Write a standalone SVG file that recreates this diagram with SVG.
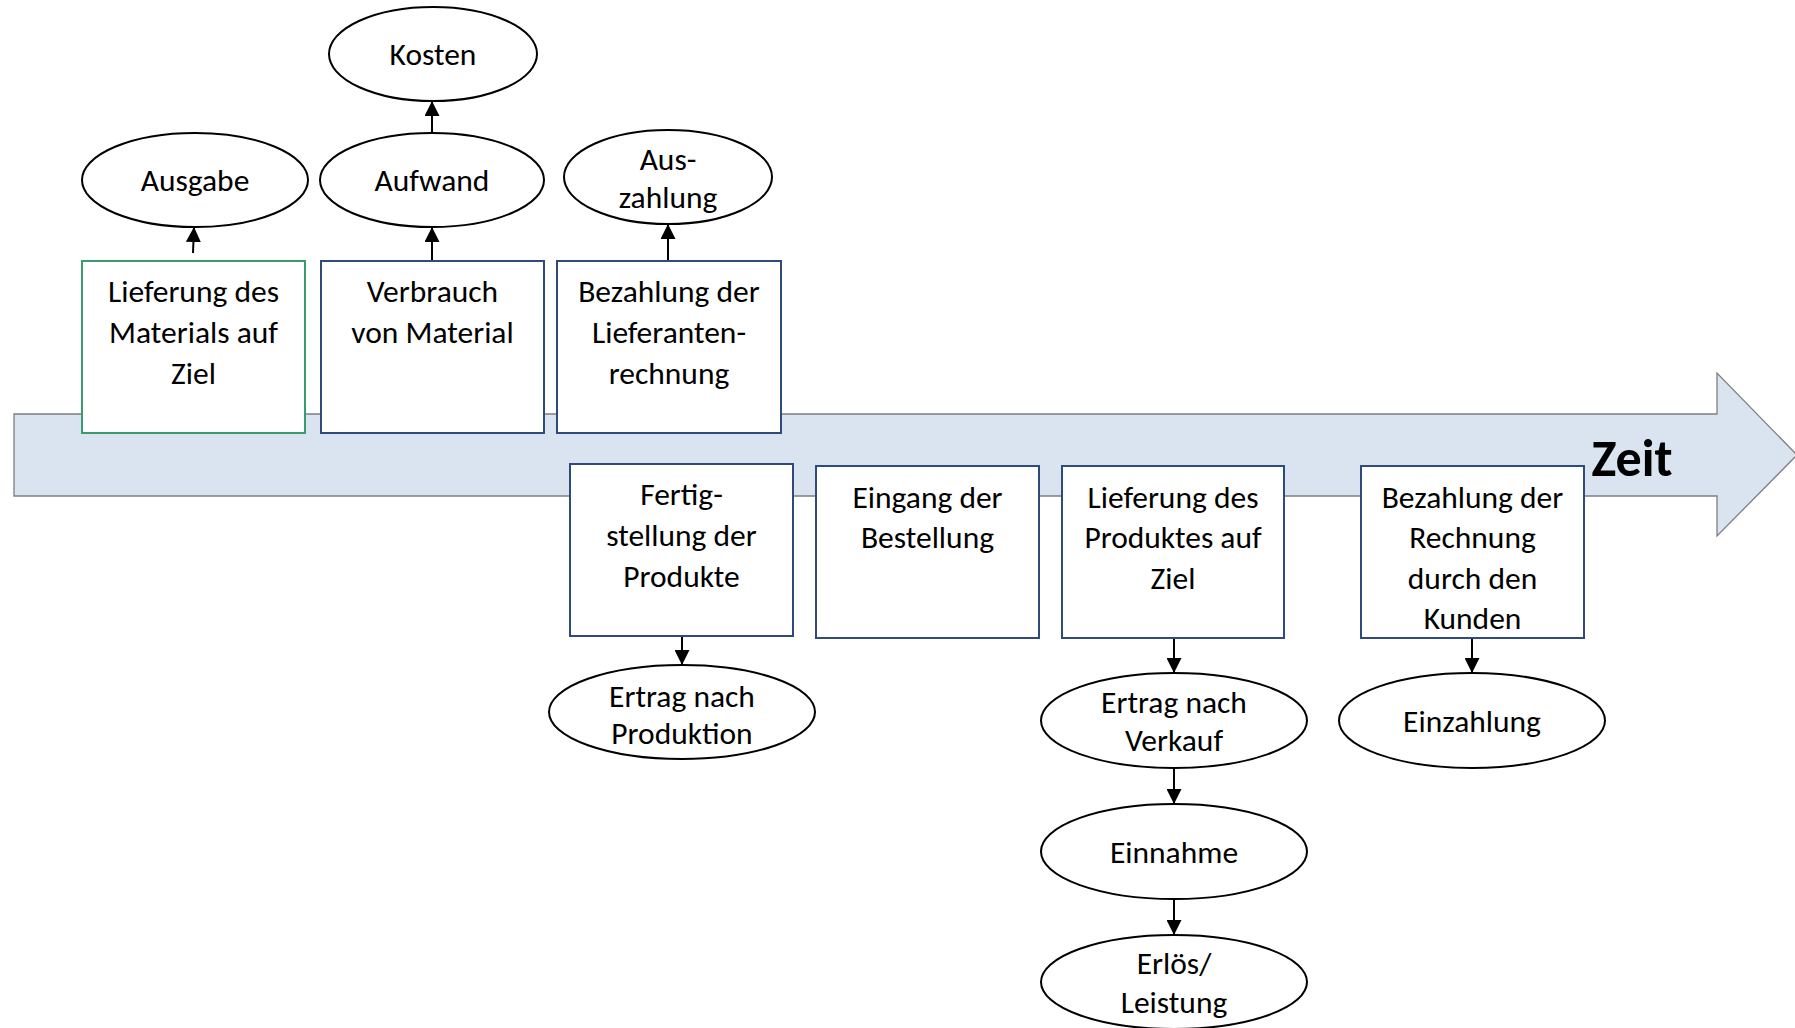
<svg xmlns="http://www.w3.org/2000/svg" width="1795" height="1028" viewBox="0 0 1795 1028">
<style>
text{font-family:Carlito,Lato,"Liberation Sans",sans-serif;font-size:31.5px;fill:#000;text-anchor:middle}
.box{fill:#fff;stroke:#2F4B7C;stroke-width:2}
.gbox{fill:#fff;stroke:#3B9A6E;stroke-width:2}
.ell{fill:#fff;stroke:#000;stroke-width:2}
.con{stroke:#000;stroke-width:2;fill:none;marker-end:url(#ah)}
.zeit{font-weight:bold;font-size:52px}
</style>
<defs>
<marker id="ah" markerUnits="userSpaceOnUse" markerWidth="15" markerHeight="15" refX="15" refY="7.5" orient="auto">
<path d="M0,0 L15,7.5 L0,15 z" fill="#000"/>
</marker>
</defs>
<g id="timeline">
<polygon points="14,414 1717,414 1717,373 1797,455 1717,536 1717,496 14,496" fill="#DAE3F0" stroke="#7F7F7F" stroke-width="1.3"/>
<text class="zeit" x="1632" y="476">Zeit</text>
</g>
<g id="connectors">
<line class="con" x1="193" y1="253" x2="194" y2="227"/>
<line class="con" x1="432" y1="261" x2="432" y2="227"/>
<line class="con" x1="432" y1="133" x2="432" y2="101"/>
<line class="con" x1="668" y1="261" x2="668" y2="224"/>
<line class="con" x1="682" y1="636" x2="682" y2="665"/>
<line class="con" x1="1174" y1="638" x2="1174" y2="673"/>
<line class="con" x1="1472" y1="638" x2="1472" y2="673"/>
<line class="con" x1="1174" y1="768" x2="1174" y2="804"/>
<line class="con" x1="1174" y1="899" x2="1174" y2="935"/>
</g>
<g id="n-kosten"><ellipse class="ell" cx="433" cy="54" rx="104" ry="47"/><text x="433" y="65">Kosten</text></g>
<g id="n-ausgabe"><ellipse class="ell" cx="195" cy="180" rx="113" ry="47"/><text x="195" y="191">Ausgabe</text></g>
<g id="n-aufwand"><ellipse class="ell" cx="432" cy="180" rx="112" ry="47"/><text x="432" y="191">Aufwand</text></g>
<g id="n-auszahlung"><ellipse class="ell" cx="668" cy="177" rx="104" ry="47"/><text x="668" y="170">Aus-</text><text x="668" y="208">zahlung</text></g>
<g id="n-lieferung-material"><rect class="gbox" x="82" y="261" width="223" height="172"/><text x="193.5" y="302">Lieferung des</text><text x="193.5" y="343">Materials auf</text><text x="193.5" y="384">Ziel</text></g>
<g id="n-verbrauch"><rect class="box" x="321" y="261" width="223" height="172"/><text x="432.5" y="302">Verbrauch</text><text x="432.5" y="343">von Material</text></g>
<g id="n-bezahlung-lieferant"><rect class="box" x="557" y="261" width="224" height="172"/><text x="669" y="302">Bezahlung der</text><text x="669" y="343">Lieferanten-</text><text x="669" y="384">rechnung</text></g>
<g id="n-fertigstellung"><rect class="box" x="570" y="464" width="223" height="172"/><text x="681.5" y="505">Fertig-</text><text x="681.5" y="546">stellung der</text><text x="681.5" y="587">Produkte</text></g>
<g id="n-eingang"><rect class="box" x="816" y="466" width="223" height="172"/><text x="927.5" y="508">Eingang der</text><text x="927.5" y="548">Bestellung</text></g>
<g id="n-lieferung-produkt"><rect class="box" x="1062" y="466" width="222" height="172"/><text x="1173" y="508">Lieferung des</text><text x="1173" y="548">Produktes auf</text><text x="1173" y="589">Ziel</text></g>
<g id="n-bezahlung-kunde"><rect class="box" x="1361" y="466" width="223" height="172"/><text x="1472.5" y="508">Bezahlung der</text><text x="1472.5" y="548">Rechnung</text><text x="1472.5" y="589">durch den</text><text x="1472.5" y="629">Kunden</text></g>
<g id="n-ertrag-produktion"><ellipse class="ell" cx="682" cy="712" rx="133" ry="47"/><text x="682" y="707">Ertrag nach</text><text x="682" y="744">Produktion</text></g>
<g id="n-ertrag-verkauf"><ellipse class="ell" cx="1174" cy="720.5" rx="133" ry="47.5"/><text x="1174" y="713">Ertrag nach</text><text x="1174" y="751">Verkauf</text></g>
<g id="n-einzahlung"><ellipse class="ell" cx="1472" cy="720.5" rx="133" ry="47.5"/><text x="1472" y="732">Einzahlung</text></g>
<g id="n-einnahme"><ellipse class="ell" cx="1174" cy="851.5" rx="133" ry="47.5"/><text x="1174" y="863">Einnahme</text></g>
<g id="n-erloes"><ellipse class="ell" cx="1174" cy="982" rx="133" ry="47"/><text x="1174" y="974">Erlös/</text><text x="1174" y="1013">Leistung</text></g>
</svg>
